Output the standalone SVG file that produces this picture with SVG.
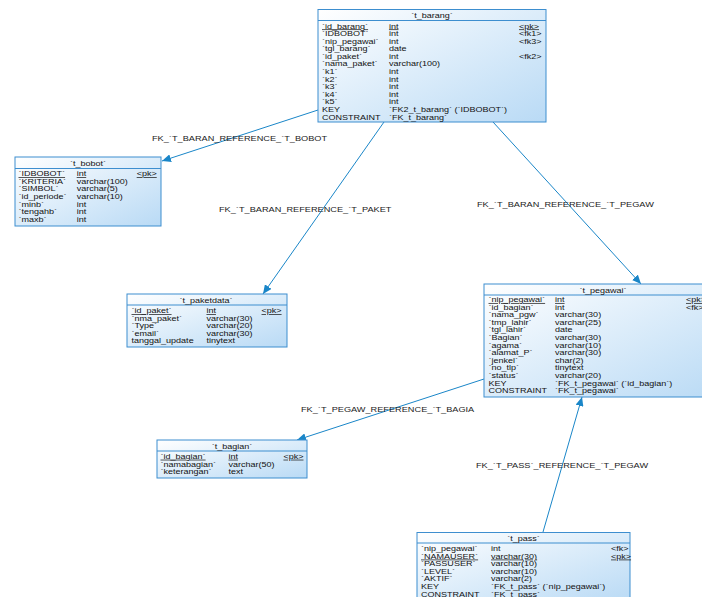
<svg xmlns="http://www.w3.org/2000/svg" width="702" height="597" viewBox="0 0 702 597">
  <style>
    text { font-family: "Liberation Sans", Arial, sans-serif; font-size: 7px; fill: #111; }
    .title { text-anchor: middle; }
    .pk { text-decoration: underline; }
    .box { fill: url(#tableFill); stroke: #3d8ecf; stroke-width: 1; }
    .sep { stroke: #3d8ecf; stroke-width: 1; }
    .ref { stroke: #1a86c8; stroke-width: 1; fill: none; marker-end: url(#arrow); }
    .lbl { font-size: 8px; fill: #222; }
  </style>
  <defs>
    <linearGradient id="tableFill" x1="0" y1="0" x2="1" y2="1">
      <stop offset="0" stop-color="#ffffff"/>
      <stop offset="1" stop-color="#b9daf5"/>
    </linearGradient>
    <marker id="arrow" markerUnits="userSpaceOnUse" markerWidth="10" markerHeight="8" refX="9" refY="4" orient="auto">
      <path d="M0,0 L9,4 L0,8 Z" fill="#1a86c8"/>
    </marker>
  </defs>

  <rect width="702" height="597" fill="#ffffff"/>

  <!-- references between tables -->
  <g id="connectors">
    <line class="ref" x1="318" y1="110" x2="162" y2="161"/>
    <line class="ref" x1="384" y1="122" x2="263" y2="294"/>
    <line class="ref" x1="493" y1="122" x2="641" y2="284"/>
    <line class="ref" x1="484" y1="379" x2="297" y2="440"/>
    <line class="ref" x1="543" y1="532" x2="582" y2="397"/>
    <text class="lbl" transform="translate(152,141) scale(1.15,1)">FK_`T_BARAN_REFERENCE_`T_BOBOT</text>
    <text class="lbl" transform="translate(219,212) scale(1.15,1)">FK_`T_BARAN_REFERENCE_`T_PAKET</text>
    <text class="lbl" transform="translate(477,207) scale(1.15,1)">FK_`T_BARAN_REFERENCE_`T_PEGAW</text>
    <text class="lbl" transform="translate(301,412) scale(1.15,1)">FK_`T_PEGAW_REFERENCE_`T_BAGIA</text>
    <text class="lbl" transform="translate(476,468) scale(1.15,1)">FK_`T_PASS`_REFERENCE_`T_PEGAW</text>
  </g>

  <!-- t_barang -->
  <g id="t_barang">
    <rect class="box" x="318" y="9.5" width="228" height="112.5"/>
    <line class="sep" x1="318" y1="20.5" x2="546" y2="20.5"/>
    <text class="title" transform="translate(432,18) scale(1.29,1)">`t_barang`</text>
    <g transform="translate(322,28.5) scale(1.29,1)">
      <text class="pk" x="0" y="0">`id_barang`</text><text class="pk" x="51.9" y="0">int</text><text class="pk" x="152.7" y="0">&lt;pk&gt;</text>
      <text x="0" y="7.6">`IDBOBOT`</text><text x="51.9" y="7.6">int</text><text x="152.7" y="7.6">&lt;fk1&gt;</text>
      <text x="0" y="15.2">`nip_pegawai`</text><text x="51.9" y="15.2">int</text><text x="152.7" y="15.2">&lt;fk3&gt;</text>
      <text x="0" y="22.8">`tgl_barang`</text><text x="51.9" y="22.8">date</text>
      <text x="0" y="30.4">`id_paket`</text><text x="51.9" y="30.4">int</text><text x="152.7" y="30.4">&lt;fk2&gt;</text>
      <text x="0" y="38">`nama_paket`</text><text x="51.9" y="38">varchar(100)</text>
      <text x="0" y="45.6">`k1`</text><text x="51.9" y="45.6">int</text>
      <text x="0" y="53.2">`k2`</text><text x="51.9" y="53.2">int</text>
      <text x="0" y="60.8">`k3`</text><text x="51.9" y="60.8">int</text>
      <text x="0" y="68.4">`k4`</text><text x="51.9" y="68.4">int</text>
      <text x="0" y="76">`k5`</text><text x="51.9" y="76">int</text>
      <text x="0" y="83.6">KEY</text><text x="51.9" y="83.6">`FK2_t_barang` (`IDBOBOT`)</text>
      <text x="0" y="91.2">CONSTRAINT</text><text x="51.9" y="91.2">`FK_t_barang`</text>
    </g>
  </g>

  <!-- t_bobot -->
  <g id="t_bobot">
    <rect class="box" x="15" y="157" width="146" height="69"/>
    <line class="sep" x1="15" y1="168.5" x2="161" y2="168.5"/>
    <text class="title" transform="translate(88,166) scale(1.29,1)">`t_bobot`</text>
    <g transform="translate(18.5,176.3) scale(1.29,1)">
      <text class="pk" x="0" y="0">`IDBOBOT`</text><text class="pk" x="45.1" y="0">int</text><text class="pk" x="91.6" y="0">&lt;pk&gt;</text>
      <text x="0" y="7.6">`KRITERIA`</text><text x="45.1" y="7.6">varchar(100)</text>
      <text x="0" y="15.2">`SIMBOL`</text><text x="45.1" y="15.2">varchar(5)</text>
      <text x="0" y="22.8">`id_periode`</text><text x="45.1" y="22.8">varchar(10)</text>
      <text x="0" y="30.4">`minb`</text><text x="45.1" y="30.4">int</text>
      <text x="0" y="38">`tengahb`</text><text x="45.1" y="38">int</text>
      <text x="0" y="45.6">`maxb`</text><text x="45.1" y="45.6">int</text>
    </g>
  </g>

  <!-- t_paketdata -->
  <g id="t_paketdata">
    <rect class="box" x="127" y="294" width="160" height="53"/>
    <line class="sep" x1="127" y1="305" x2="287" y2="305"/>
    <text class="title" transform="translate(206,302.5) scale(1.29,1)">`t_paketdata`</text>
    <g transform="translate(131.5,313.3) scale(1.29,1)">
      <text class="pk" x="0" y="0">`id_paket`</text><text class="pk" x="58.1" y="0">int</text><text class="pk" x="100.8" y="0">&lt;pk&gt;</text>
      <text x="0" y="7.5">`nma_paket`</text><text x="58.1" y="7.5">varchar(30)</text>
      <text x="0" y="15">`Type`</text><text x="58.1" y="15">varchar(20)</text>
      <text x="0" y="22.5">`email`</text><text x="58.1" y="22.5">varchar(30)</text>
      <text x="0" y="30">tanggal_update</text><text x="58.1" y="30">tinytext</text>
    </g>
  </g>

  <!-- t_pegawai -->
  <g id="t_pegawai">
    <rect class="box" x="484" y="284" width="238" height="113"/>
    <line class="sep" x1="484" y1="295" x2="722" y2="295"/>
    <text class="title" transform="translate(603,292.5) scale(1.29,1)">`t_pegawai`</text>
    <g transform="translate(488.5,302.1) scale(1.29,1)">
      <text class="pk" x="0" y="0">`nip_pegawai`</text><text class="pk" x="51.6" y="0">int</text><text class="pk" x="153.1" y="0">&lt;pk&gt;</text>
      <text x="0" y="7.6">`id_bagian`</text><text x="51.6" y="7.6">int</text><text x="153.1" y="7.6">&lt;fk&gt;</text>
      <text x="0" y="15.2">`nama_pgw`</text><text x="51.6" y="15.2">varchar(30)</text>
      <text x="0" y="22.8">`tmp_lahir`</text><text x="51.6" y="22.8">varchar(25)</text>
      <text x="0" y="30.4">`tgl_lahir`</text><text x="51.6" y="30.4">date</text>
      <text x="0" y="38">`Bagian`</text><text x="51.6" y="38">varchar(30)</text>
      <text x="0" y="45.6">`agama`</text><text x="51.6" y="45.6">varchar(10)</text>
      <text x="0" y="53.2">`alamat_P`</text><text x="51.6" y="53.2">varchar(30)</text>
      <text x="0" y="60.8">`jenkel`</text><text x="51.6" y="60.8">char(2)</text>
      <text x="0" y="68.4">`no_tlp`</text><text x="51.6" y="68.4">tinytext</text>
      <text x="0" y="76">`status`</text><text x="51.6" y="76">varchar(20)</text>
      <text x="0" y="83.6">KEY</text><text x="51.6" y="83.6">`FK_t_pegawai` (`id_bagian`)</text>
      <text x="0" y="91.2">CONSTRAINT</text><text x="51.6" y="91.2">`FK_t_pegawai`</text>
    </g>
  </g>

  <!-- t_bagian -->
  <g id="t_bagian">
    <rect class="box" x="157" y="440" width="150" height="38"/>
    <line class="sep" x1="157" y1="451" x2="307" y2="451"/>
    <text class="title" transform="translate(232,448.5) scale(1.29,1)">`t_bagian`</text>
    <g transform="translate(160.5,458.8) scale(1.29,1)">
      <text class="pk" x="0" y="0">`id_bagian`</text><text class="pk" x="52.7" y="0">int</text><text class="pk" x="95.3" y="0">&lt;pk&gt;</text>
      <text x="0" y="7.8">`namabagian`</text><text x="52.7" y="7.8">varchar(50)</text>
      <text x="0" y="15.6">`keterangan`</text><text x="52.7" y="15.6">text</text>
    </g>
  </g>

  <!-- t_pass -->
  <g id="t_pass">
    <rect class="box" x="417" y="532.5" width="213" height="70"/>
    <line class="sep" x1="417" y1="543" x2="630" y2="543"/>
    <text class="title" transform="translate(523.5,540.8) scale(1.29,1)">`t_pass`</text>
    <g transform="translate(421,551.1) scale(1.29,1)">
      <text x="0" y="0">`nip_pegawai`</text><text x="54.3" y="0">int</text><text x="147.3" y="0">&lt;fk&gt;</text>
      <text class="pk" x="0" y="7.6">`NAMAUSER`</text><text class="pk" x="54.3" y="7.6">varchar(30)</text><text class="pk" x="147.3" y="7.6">&lt;pk&gt;</text>
      <text x="0" y="15.2">`PASSUSER`</text><text x="54.3" y="15.2">varchar(10)</text>
      <text x="0" y="22.8">`LEVEL`</text><text x="54.3" y="22.8">varchar(10)</text>
      <text x="0" y="30.4">`AKTIF`</text><text x="54.3" y="30.4">varchar(2)</text>
      <text x="0" y="38">KEY</text><text x="54.3" y="38">`FK_t_pass` (`nip_pegawai`)</text>
      <text x="0" y="45.6">CONSTRAINT</text><text x="54.3" y="45.6">`FK_t_pass`</text>
    </g>
  </g>
</svg>
